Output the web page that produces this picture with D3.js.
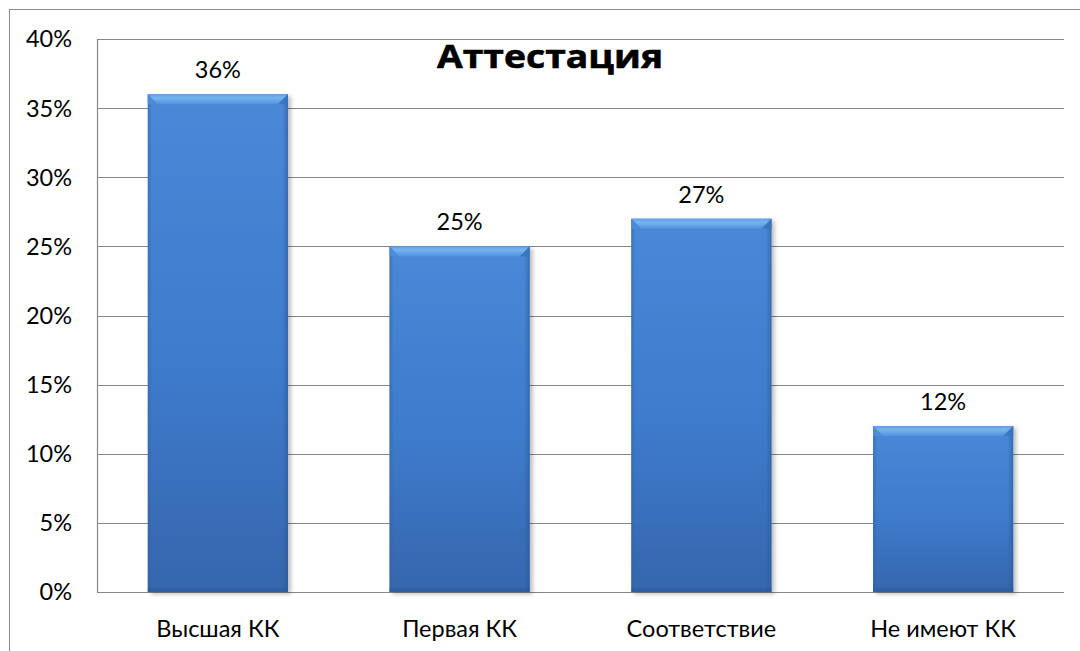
<!DOCTYPE html>
<html>
<head>
<meta charset="utf-8">
<script src="https://cdn.jsdelivr.net/npm/d3@7"></script>
<style>
  html, body { margin: 0; padding: 0; background: #ffffff; }
  svg { display: block; }
  text { font-family: "Lato", "Open Sans", "DejaVu Sans", sans-serif; fill: #000; }
</style>
</head>
<body>
<svg id="chart" width="1080" height="651"></svg>
<script>
// Attestation shares by qualification category
const categories = ["Высшая КК", "Первая КК", "Соответствие", "Не имеют КК"];
const shares = [36, 25, 27, 12];
const yTicks = [0, 5, 10, 15, 20, 25, 30, 35, 40];
const chartTitle = "Аттестация";

const svg = d3.select("#chart");
const W = 1080, H = 651;
const plot = { left: 97, right: 1064, top: 39, bottom: 592 };

// outer chart frame
svg.append("rect")
  .attr("x", 9.5).attr("y", 9.5)
  .attr("width", W + 20).attr("height", H + 20)
  .attr("fill", "#fff").attr("stroke", "#8c8c8c").attr("stroke-width", 1);

const x = d3.scaleBand()
  .domain(categories)
  .range([plot.left, plot.right])
  .paddingInner(0.42)
  .paddingOuter(0.21);

const y = d3.scaleLinear()
  .domain([0, 40])
  .range([plot.bottom, plot.top]);

const defs = svg.append("defs");

const body = defs.append("linearGradient").attr("id", "barBody")
  .attr("x1", 0).attr("y1", 0).attr("x2", 0).attr("y2", 1);
body.append("stop").attr("offset", "0%").attr("stop-color", "#4988d8");
body.append("stop").attr("offset", "55%").attr("stop-color", "#3e7bcc");
body.append("stop").attr("offset", "100%").attr("stop-color", "#3566ad");

const side = defs.append("linearGradient").attr("id", "barSide")
  .attr("x1", 0).attr("y1", 0).attr("x2", 1).attr("y2", 0);
side.append("stop").attr("offset", "0%").attr("stop-color", "#2f5f9f").attr("stop-opacity", 0.5);
side.append("stop").attr("offset", "3%").attr("stop-color", "#2f5f9f").attr("stop-opacity", 0);
side.append("stop").attr("offset", "96%").attr("stop-color", "#2a568f").attr("stop-opacity", 0);
side.append("stop").attr("offset", "100%").attr("stop-color", "#2a568f").attr("stop-opacity", 0.55);

const bevel = defs.append("linearGradient").attr("id", "barBevel")
  .attr("x1", 0).attr("y1", 0).attr("x2", 0).attr("y2", 1);
bevel.append("stop").attr("offset", "0%").attr("stop-color", "#5f9de6");
bevel.append("stop").attr("offset", "35%").attr("stop-color", "#79b3f1");
bevel.append("stop").attr("offset", "100%").attr("stop-color", "#5192de");

const shadow = defs.append("filter").attr("id", "barShadow")
  .attr("x", "-10%").attr("y", "-5%").attr("width", "130%").attr("height", "115%");
shadow.append("feDropShadow")
  .attr("dx", 3).attr("dy", 2).attr("stdDeviation", 2.2)
  .attr("flood-color", "#000").attr("flood-opacity", 0.26);

// horizontal gridlines
svg.append("g").selectAll("line")
  .data(yTicks)
  .join("line")
  .attr("x1", plot.left).attr("x2", plot.right)
  .attr("y1", d => Math.round(y(d)) + 0.5).attr("y2", d => Math.round(y(d)) + 0.5)
  .attr("stroke", "#878787").attr("stroke-width", 1.2);

// vertical axis line
svg.append("line")
  .attr("x1", plot.left + 0.5).attr("x2", plot.left + 0.5)
  .attr("y1", y(40)).attr("y2", y(0) + 0.5)
  .attr("stroke", "#878787").attr("stroke-width", 1.2);

// y tick labels
svg.append("g").selectAll("text")
  .data(yTicks)
  .join("text")
  .attr("x", 72)
  .attr("y", d => y(d))
  .attr("dy", "0.36em")
  .attr("text-anchor", "end")
  .style("font-size", "23.5px")
  .text(d => d + "%");

// bars
const bars = svg.append("g").selectAll("g")
  .data(categories.map((c, i) => ({ c, v: shares[i] })))
  .join("g");

const bw = x.bandwidth();
const bev = 10;

bars.append("rect")
  .attr("x", d => x(d.c)).attr("y", d => y(d.v))
  .attr("width", bw).attr("height", d => y(0) - y(d.v))
  .attr("fill", "url(#barBody)")
  .attr("filter", "url(#barShadow)");

bars.append("rect")
  .attr("x", d => x(d.c)).attr("y", d => y(d.v))
  .attr("width", bw).attr("height", d => y(0) - y(d.v))
  .attr("fill", "url(#barSide)");

// top bevel
bars.append("path")
  .attr("d", d => {
    const x0 = x(d.c), x1 = x0 + bw, t = y(d.v);
    return `M${x0},${t} L${x1},${t} L${x1 - bev},${t + bev} L${x0 + bev},${t + bev} Z`;
  })
  .attr("fill", "url(#barBevel)");

// bevel corner faces
bars.append("path")
  .attr("d", d => {
    const x0 = x(d.c), t = y(d.v);
    return `M${x0},${t} L${x0 + bev},${t + bev} L${x0},${t + bev} Z`;
  })
  .attr("fill", "#4f8ddb").attr("opacity", 0.8);
bars.append("path")
  .attr("d", d => {
    const x1 = x(d.c) + bw, t = y(d.v);
    return `M${x1},${t} L${x1 - bev},${t + bev} L${x1},${t + bev} Z`;
  })
  .attr("fill", "#3b73bd").attr("opacity", 0.8);

// bottom edge
bars.append("rect")
  .attr("x", d => x(d.c)).attr("y", y(0) - 4)
  .attr("width", bw).attr("height", 4)
  .attr("fill", "#2c5a98").attr("opacity", 0.5);

// value labels
bars.append("text")
  .attr("x", d => x(d.c) + bw / 2)
  .attr("y", d => y(d.v) - 16)
  .attr("text-anchor", "middle")
  .style("font-size", "23.5px")
  .text(d => d.v + "%");

// category labels
svg.append("g").selectAll("text")
  .data(categories)
  .join("text")
  .attr("x", d => x(d) + bw / 2)
  .attr("y", 637)
  .attr("text-anchor", "middle")
  .style("font-size", "23.5px")
  .text(d => d);

// title
svg.append("text")
  .attr("x", 550).attr("y", 68)
  .attr("text-anchor", "middle")
  .attr("textLength", 226)
  .attr("lengthAdjust", "spacingAndGlyphs")
  .style("font-family", "'Open Sans', 'Lato', sans-serif")
  .style("font-size", "33px")
  .style("font-weight", "700")
  .style("stroke", "#000")
  .style("stroke-width", "0.6px")
  .text(chartTitle);
</script>
</body>
</html>
